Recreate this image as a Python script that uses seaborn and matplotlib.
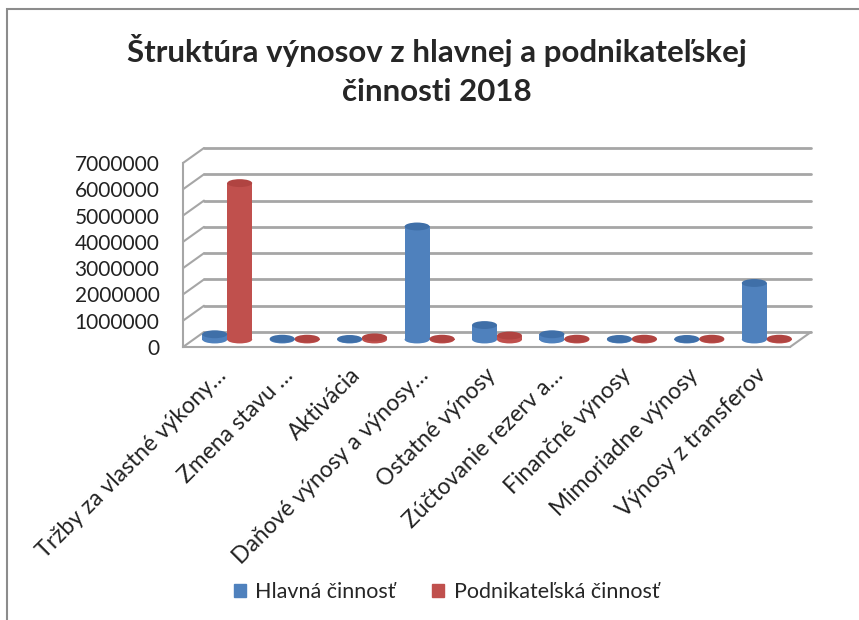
import matplotlib
matplotlib.use("Agg")
import matplotlib.patches as mpatches
import matplotlib.transforms as mtransforms
import pandas as pd
import seaborn as sns
from matplotlib import pyplot as plt
from matplotlib.lines import Line2D

sns.set_style("white")
plt.rcParams["font.family"] = ["Lato", "DejaVu Sans"]

categories = [
    "Tržby za vlastné výkony…",
    "Zmena stavu …",
    "Aktivácia",
    "Daňové výnosy a výnosy…",
    "Ostatné výnosy",
    "Zúčtovanie rezerv a…",
    "Finančné výnosy",
    "Mimoriadne výnosy",
    "Výnosy z transferov",
]
series_names = ["Hlavná činnosť", "Podnikateľská činnosť"]
hlavna = [200000, 30000, 20000, 4300000, 550000, 200000, 20000, 20000, 2150000]
podnikatelska = [5950000, 30000, 80000, 30000, 150000, 30000, 30000, 30000, 30000]
y_ticks = [0, 1000000, 2000000, 3000000, 4000000, 5000000, 6000000, 7000000]

colors = {"Hlavná činnosť": "#4f81bd", "Podnikateľská činnosť": "#c0504d"}
tops = {"#4f81bd": "#3f6fa8", "#c0504d": "#b04441"}

frame = pd.DataFrame(
    {
        "kategoria": categories * 2,
        "cinnost": [series_names[0]] * len(categories) + [series_names[1]] * len(categories),
        "hodnota": hlavna + podnikatelska,
    }
)

fig = plt.figure(figsize=(8.59, 6.2), dpi=100)
ax = fig.add_axes([183 / 859, 1 - 347 / 620, 607 / 859, 184 / 620])

sns.barplot(
    data=frame,
    x="kategoria",
    y="hodnota",
    hue="cinnost",
    palette=colors,
    width=0.74,
    gap=0,
    saturation=1,
    legend=False,
    ax=ax,
)

ymax = 7000000
ax.set_ylim(0, ymax)
ax.set_xlim(-0.5, len(categories) - 0.5)

# depth of the pseudo 3d box in data units (about 21 px right, 15 px up)
depth_x = 21 / (607 / len(categories))
depth_y = 15 / (184 / ymax)
x0, x1 = -0.5, len(categories) - 0.5
grid_color = "#A6A6A6"

for t in y_ticks:
    ax.add_line(Line2D([x0 + depth_x, x1 + depth_x], [t + depth_y, t + depth_y],
                       color=grid_color, lw=2, clip_on=False, zorder=0))
    ax.add_line(Line2D([x0, x0 + depth_x], [t, t + depth_y],
                       color=grid_color, lw=1.5, clip_on=False, zorder=0))
# floor right edge
ax.add_line(Line2D([x1, x1 + depth_x], [0, depth_y], color=grid_color, lw=1.5, clip_on=False, zorder=0))

# move bars to the middle depth and give them cylinder caps
disc_h = 0.3e6
for bar in list(ax.patches):
    bx, bw, bh = bar.get_x(), bar.get_width(), bar.get_height()
    fc = matplotlib.colors.to_hex(bar.get_facecolor())
    bar.set_x(bx + depth_x / 2)
    bar.set_y(depth_y / 2)
    bar.set_edgecolor("none")
    bar.set_clip_on(False)
    bar.set_zorder(2)
    cx = bx + depth_x / 2 + bw / 2
    ax.add_patch(mpatches.Ellipse((cx, depth_y / 2), bw, disc_h, facecolor=fc,
                                  edgecolor="none", clip_on=False, zorder=1.9))
    ax.add_patch(mpatches.Ellipse((cx, depth_y / 2 + bh), bw, disc_h, facecolor=tops.get(fc, fc),
                                  edgecolor="none", clip_on=False, zorder=2.1))

for side in ["top", "right"]:
    ax.spines[side].set_visible(False)
for side in ["left", "bottom"]:
    ax.spines[side].set_color(grid_color)
    ax.spines[side].set_linewidth(1.5)

ax.set_yticks(y_ticks)
ax.set_yticklabels([f"{t:d}" for t in y_ticks], fontsize=15, color="#222222")
ax.tick_params(axis="y", length=0, pad=17)
ax.tick_params(axis="x", length=0, pad=0)
ax.set_xticks(range(len(categories)))
ax.set_xticklabels(categories, rotation=45, ha="right", va="center",
                   rotation_mode="anchor", fontsize=16.5, color="#222222")
shift = mtransforms.ScaledTranslation(0.06, -0.25, fig.dpi_scale_trans)
for lab in ax.get_xticklabels():
    lab.set_transform(lab.get_transform() + shift)
ax.set_xlabel("")
ax.set_ylabel("")
ax.set_facecolor("none")

fig.text(0.509, 1 - 70 / 620, "Štruktúra výnosov z hlavnej a podnikateľskej\nčinnosti 2018",
         ha="center", va="center", fontsize=22.5, fontweight="bold", linespacing=1.45)

handles = [mpatches.Patch(color=colors[n], label=n) for n in series_names]
fig.legend(handles=handles, loc="center", bbox_to_anchor=(0.52, 1 - 592 / 620), ncol=2,
           frameon=False, fontsize=15.5, handlelength=0.55, handleheight=0.55,
           handletextpad=0.45, columnspacing=1.7)

fig.add_artist(mpatches.Rectangle((7 / 859, -0.1), 1.2, 1 - 9 / 620 + 0.1, transform=fig.transFigure,
                                  facecolor="none", edgecolor="#8C8C8C", lw=1.5))

fig.savefig("out.png", dpi=100)
